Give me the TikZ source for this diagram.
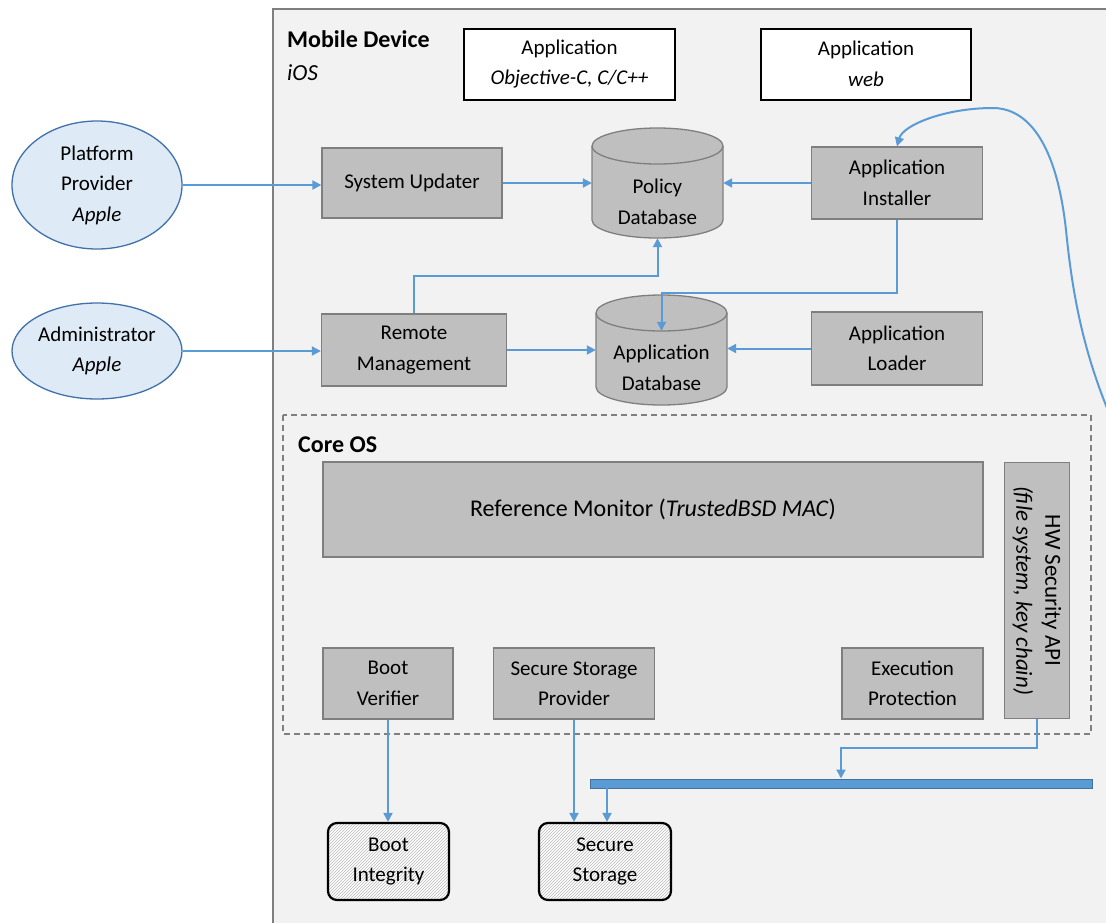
\documentclass[tikz,border=0pt]{standalone}
\usepackage{fontspec}
\setmainfont{Carlito}
\usetikzlibrary{arrows.meta,patterns,shapes.geometric,calc}
\definecolor{connblue}{RGB}{91,155,213}
\definecolor{boxfill}{RGB}{191,191,191}
\definecolor{boxedge}{RGB}{127,127,127}
\definecolor{devfill}{RGB}{242,242,242}
\definecolor{actorfill}{RGB}{222,235,247}
\definecolor{actoredge}{RGB}{65,113,170}
\definecolor{busedge}{RGB}{65,113,156}
\begin{document}
\begin{tikzpicture}[x=1pt,y=-1pt,
  font=\fontsize{21}{30.5}\selectfont,
  gbox/.style={draw=boxedge, fill=boxfill, line width=1.3pt, align=center, inner sep=2pt},
  wbox/.style={draw=black, fill=white, line width=2pt, align=center, inner sep=2pt},
  actor/.style={ellipse, draw=actoredge, fill=actorfill, line width=1.3pt, align=center, inner sep=0pt},
  dbshape/.style={draw=boxedge, fill=boxfill, line width=1.3pt},
  dbtext/.style={align=center, inner sep=0pt},
  conn/.style={draw=connblue, line width=2pt, -{Triangle[length=9pt,width=9pt]}},
  hatchbox/.style={draw=black, line width=2.2pt, rounded corners=9pt, preaction={fill=white}, pattern=north east lines, pattern color=gray!55, align=center, inner sep=2pt},
  title/.style={font=\fontsize{24}{28}\selectfont\bfseries, anchor=base west, inner sep=0pt},
  subtitle/.style={font=\fontsize{23}{28}\selectfont\itshape, anchor=base west, inner sep=0pt}
]
\useasboundingbox (0,0) rectangle (1106,922);
\clip (0,0) rectangle (1106,922);
\fill[white] (0,0) rectangle (1106,922);

% Mobile device frame
\filldraw[draw=boxedge, fill=devfill, line width=2.5pt] (273,9) rectangle (1140,950);
\node[title] (mdtitle) at (287,47) {Mobile Device};
\node[subtitle] (mdsub) at (287,80) {iOS};

% Applications
\node[wbox, minimum width=211, minimum height=71] (app1) at (569.5,64) {Application\\\textit{Objective-C, C/C++}};
\node[wbox, minimum width=210, minimum height=71] (app2) at (866,64) {Application\\\textit{web}};

% Actors
\node[actor, minimum width=170, minimum height=128] (pp) at (97,185) {Platform\\Provider\\\textit{Apple}};
\node[actor, minimum width=170, minimum height=96] (adm) at (97,351) {Administrator\\\textit{Apple}};

% Cylinders
\filldraw[dbshape] (592,146) -- (592,220) arc[start angle=180,end angle=360,x radius=65.5pt,y radius=18pt] -- (723,146) arc[start angle=0,end angle=180,x radius=65.5pt,y radius=18pt] -- cycle;
\draw[dbshape, fill=none] (592,146) arc[start angle=180,end angle=360,x radius=65.5pt,y radius=18pt];
\node[dbtext, minimum width=131, minimum height=72] (policy) at (657.5,202) {Policy\\Database};

\filldraw[dbshape] (596,313) -- (596,387) arc[start angle=180,end angle=360,x radius=65.5pt,y radius=18pt] -- (727,313) arc[start angle=0,end angle=180,x radius=65.5pt,y radius=18pt] -- cycle;
\draw[dbshape, fill=none] (596,313) arc[start angle=180,end angle=360,x radius=65.5pt,y radius=18pt];
\node[dbtext, minimum width=131, minimum height=74] (appdb) at (661.5,368) {Application\\Database};

% Grey boxes upper
\node[gbox, minimum width=180, minimum height=70] (su) at (412,183) {System Updater};
\node[gbox, minimum width=171, minimum height=72] (inst) at (897,183) {Application\\Installer};
\node[gbox, minimum width=185, minimum height=72] (rm) at (414,350) {Remote\\Management};
\node[gbox, minimum width=171, minimum height=73] (loader) at (897,348.5) {Application\\Loader};

% Core OS
\draw[draw=boxedge, line width=1.5pt, dash pattern=on 6pt off 4pt] (283,415) rectangle (1091,734);
\node[title] (coretitle) at (298,452) {Core OS};
\node[gbox, minimum width=660, minimum height=95, font=\fontsize{24}{28}\selectfont] (refmon) at (653,509.5) {Reference Monitor (\textit{TrustedBSD MAC})};
\node[gbox, rotate=-90, minimum width=256, minimum height=65, font=\fontsize{23}{29}\selectfont] (hw) at (1037,590.5) {HW Security API\\\textit{(file system, key chain)}};
\node[gbox, minimum width=130, minimum height=71] (bv) at (388,683.5) {Boot\\Verifier};
\node[gbox, minimum width=161, minimum height=71] (ssp) at (574,683.5) {Secure Storage\\Provider};
\node[gbox, minimum width=141, minimum height=71] (ep) at (912.5,683.5) {Execution\\Protection};

% Bus
\node[draw=busedge, fill=connblue, line width=1pt, minimum width=502, minimum height=9, inner sep=0pt] (bus) at (841,783.5) {};

% Hatched targets
\node[hatchbox, minimum width=121, minimum height=77] (bi) at (388.5,861.5) {Boot\\Integrity};
\node[hatchbox, minimum width=132, minimum height=77] (sstor) at (605,861.5) {Secure\\Storage};

% Connectors
\draw[conn] (pp.east) -- (su.west |- pp.east);
\draw[conn] (adm.east) -- (rm.west |- adm.east);
\draw[conn] (su.east) -- (su.east -| policy.west);
\draw[conn] (inst.west) -- (inst.west -| policy.east);
\draw[conn] (rm.east) -- (rm.east -| appdb.west);
\draw[conn] (loader.west) -- (loader.west -| appdb.east);
\draw[conn] (rm.north) |- ([yshift=-38pt]policy.south) -- (policy.south);
\draw[conn] (inst.south) |- ([yshift=38pt]appdb.north) -- (appdb.north);

\coordinate (curvestart) at (1112,420);
\draw[conn] (curvestart) .. controls (1082,350) and (1072,290) .. (1066,230)
  .. controls (1055,130) and (1020,108) .. (993,108)
  .. controls (945,108) and (903,125) .. (inst.north);

\draw[conn] (bv.south) -- (bv.south |- bi.north);
\draw[conn] (ssp.south) -- (ssp.south |- sstor.north);
\coordinate (busdrop) at (607,788);
\draw[conn] (busdrop) -- (busdrop |- sstor.north);
\coordinate (hwbend) at (841,748);
\draw[conn] (hw.east) |- (hwbend) -- (hwbend |- bus.north);
\end{tikzpicture}
\end{document}
